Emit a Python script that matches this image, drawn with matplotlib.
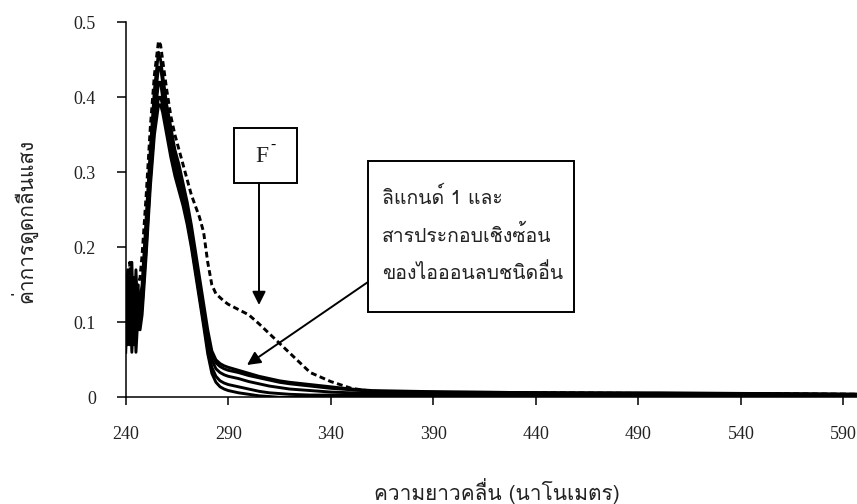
import matplotlib
matplotlib.use("Agg")
import matplotlib.pyplot as plt
from matplotlib import font_manager
from matplotlib.ft2font import FT2Font
from matplotlib.patches import Rectangle
from matplotlib.ticker import FuncFormatter

# wavelength grid (nm) and absorbance
wl = [240, 241, 242, 243, 244, 245, 246, 247, 248, 250, 252, 254, 256, 257, 258,
      260, 262, 264, 266, 268, 270, 272, 274, 276, 278, 280, 282, 284, 286, 288,
      290, 295, 300, 305, 310, 315, 320, 330, 340, 350, 360, 380, 400, 450, 500,
      550, 600]

abs_l1 = [0.12, 0.17, 0.10, 0.16, 0.11, 0.14, 0.12, 0.13, 0.15, 0.24, 0.33, 0.41, 0.46, 0.45, 0.43,
          0.39, 0.36, 0.33, 0.31, 0.285, 0.26, 0.23, 0.195, 0.16, 0.125, 0.09, 0.062, 0.050, 0.045, 0.042,
          0.040, 0.036, 0.032, 0.028, 0.025, 0.022, 0.020, 0.017, 0.014, 0.011, 0.009, 0.008, 0.007, 0.006, 0.006,
          0.005, 0.004]
abs_l2 = [0.09, 0.15, 0.07, 0.13, 0.09, 0.17, 0.10, 0.12, 0.14, 0.22, 0.31, 0.39, 0.44, 0.44, 0.42,
          0.38, 0.35, 0.32, 0.30, 0.28, 0.25, 0.22, 0.185, 0.15, 0.115, 0.082, 0.058, 0.046, 0.041, 0.038,
          0.036, 0.033, 0.029, 0.026, 0.023, 0.020, 0.018, 0.015, 0.012, 0.010, 0.008, 0.007, 0.007, 0.006, 0.005,
          0.005, 0.004]
abs_l3 = [0.16, 0.08, 0.14, 0.06, 0.12, 0.10, 0.15, 0.11, 0.13, 0.21, 0.30, 0.37, 0.42, 0.42, 0.40,
          0.37, 0.34, 0.31, 0.29, 0.27, 0.245, 0.215, 0.18, 0.145, 0.11, 0.075, 0.050, 0.038, 0.033, 0.030,
          0.028, 0.025, 0.021, 0.018, 0.015, 0.013, 0.011, 0.009, 0.007, 0.006, 0.006, 0.005, 0.005, 0.005, 0.004,
          0.004, 0.003]
abs_l4 = [0.06, 0.13, 0.09, 0.18, 0.07, 0.12, 0.09, 0.10, 0.12, 0.20, 0.29, 0.36, 0.40, 0.40, 0.39,
          0.36, 0.33, 0.30, 0.28, 0.26, 0.235, 0.205, 0.17, 0.135, 0.10, 0.065, 0.040, 0.028, 0.022, 0.019,
          0.017, 0.014, 0.011, 0.008, 0.006, 0.005, 0.004, 0.003, 0.003, 0.003, 0.003, 0.003, 0.003, 0.003, 0.003,
          0.002, 0.002]
abs_l5 = [0.11, 0.07, 0.16, 0.08, 0.14, 0.06, 0.11, 0.09, 0.11, 0.19, 0.28, 0.35, 0.39, 0.39, 0.38,
          0.35, 0.32, 0.295, 0.275, 0.255, 0.23, 0.20, 0.165, 0.13, 0.095, 0.058, 0.032, 0.020, 0.014, 0.011,
          0.009, 0.006, 0.004, 0.002, 0.001, 0.000, 0.000, 0.000, 0.001, 0.001, 0.002, 0.002, 0.002, 0.002, 0.002,
          0.002, 0.002]
abs_f = [0.15, 0.10, 0.18, 0.12, 0.16, 0.13, 0.15, 0.16, 0.19, 0.27, 0.36, 0.43, 0.475, 0.47, 0.45,
         0.41, 0.375, 0.35, 0.33, 0.31, 0.29, 0.27, 0.255, 0.24, 0.22, 0.18, 0.15, 0.138, 0.133, 0.128,
         0.124, 0.117, 0.110, 0.098, 0.085, 0.072, 0.059, 0.033, 0.021, 0.012, 0.008, 0.007, 0.006, 0.006, 0.005,
         0.005, 0.004]

solid_series = [abs_l1, abs_l2, abs_l3, abs_l4, abs_l5]

x_ticks = [240, 290, 340, 390, 440, 490, 540, 590]
y_ticks = [0, 0.1, 0.2, 0.3, 0.4, 0.5]

x_label = "ความยาวคลื่น (นาโนเมตร)"
y_label = "ค่าการดูดกลืนแสง"
box_lines = ["ลิแกนด์ 1 และ", "สารประกอบเชิงซ้อน", "ของไอออนลบชนิดอื่น"]


def find_thai_font():
    names = []
    for f in font_manager.fontManager.ttflist:
        try:
            if 0x0E01 in FT2Font(f.fname).get_charmap():
                names.append(f.name)
        except Exception:
            pass
    return names


thai = find_thai_font()
thai_family = [thai[0], "DejaVu Sans"] if thai else ["DejaVu Sans"]
serif = "Liberation Serif"

W, H = 857, 504
fig = plt.figure(figsize=(W / 100, H / 100), dpi=100)
ax = fig.add_axes([125.7 / W, (H - 397.3) / H, (W - 125.7) / W, 375 / H])


def fx(px):
    return px / W


def fy(py):
    return 1 - py / H


for s in solid_series:
    ax.plot(wl, s, color="black", lw=2.1, solid_joinstyle="round")
ax.plot(wl, abs_f, color="black", lw=2.1, ls=(0, (2.0, 1.2)))

ax.set_xlim(240, 596.6)
ax.set_ylim(0, 0.5)
ax.set_xticks(x_ticks)
ax.set_yticks(y_ticks)
ax.yaxis.set_major_formatter(FuncFormatter(lambda v, p: "0" if v == 0 else f"{v:.1f}"))
for side in ["top", "right"]:
    ax.spines[side].set_visible(False)
for side in ["left", "bottom"]:
    ax.spines[side].set_linewidth(1.1)
ax.tick_params(axis="x", direction="out", length=6, width=1.1, pad=15,
               labelsize=13, labelfontfamily=serif, labelcolor="#222222")
ax.tick_params(axis="y", direction="out", length=6.5, width=1.1, pad=15,
               labelsize=13, labelfontfamily=serif, labelcolor="#222222")

fig.text(fx(497), fy(491), x_label, ha="center", va="center", fontsize=15,
         family=thai_family, color="#222222")
fig.text(fx(25), fy(221), y_label, ha="center", va="center", fontsize=15,
         rotation=90, family=thai_family, color="#222222")

# F- box and arrow
fig.patches.append(Rectangle((fx(234), fy(183)), fx(297) - fx(234), fy(128) - fy(183),
                             transform=fig.transFigure, fill=False, lw=1.4, ec="black"))
fig.text(fx(262), fy(157), "F", ha="center", va="center", fontsize=17, family=serif,
         color="#222222")
fig.text(fx(273), fy(145), "-", ha="center", va="center", fontsize=11, family=serif)
ax.annotate("", xy=(fx(259), fy(305)), xytext=(fx(259), fy(183)),
            xycoords="figure fraction", textcoords="figure fraction",
            arrowprops=dict(arrowstyle="-|>", mutation_scale=20, lw=1.4, color="black",
                            shrinkA=0, shrinkB=0))

# ligand / other anions box and arrow
fig.patches.append(Rectangle((fx(368), fy(312)), fx(574) - fx(368), fy(161) - fy(312),
                             transform=fig.transFigure, fill=False, lw=1.4, ec="black"))
for i, line in enumerate(box_lines):
    fig.text(fx(382), fy(197 + 38 * i), line, ha="left", va="center", fontsize=14,
             family=thai_family, color="#222222")
ax.annotate("", xy=(fx(247), fy(365)), xytext=(fx(368), fy(282)),
            xycoords="figure fraction", textcoords="figure fraction",
            arrowprops=dict(arrowstyle="-|>", mutation_scale=20, lw=1.4, color="black",
                            shrinkA=0, shrinkB=0))

fig.savefig("out.png", dpi=100)
